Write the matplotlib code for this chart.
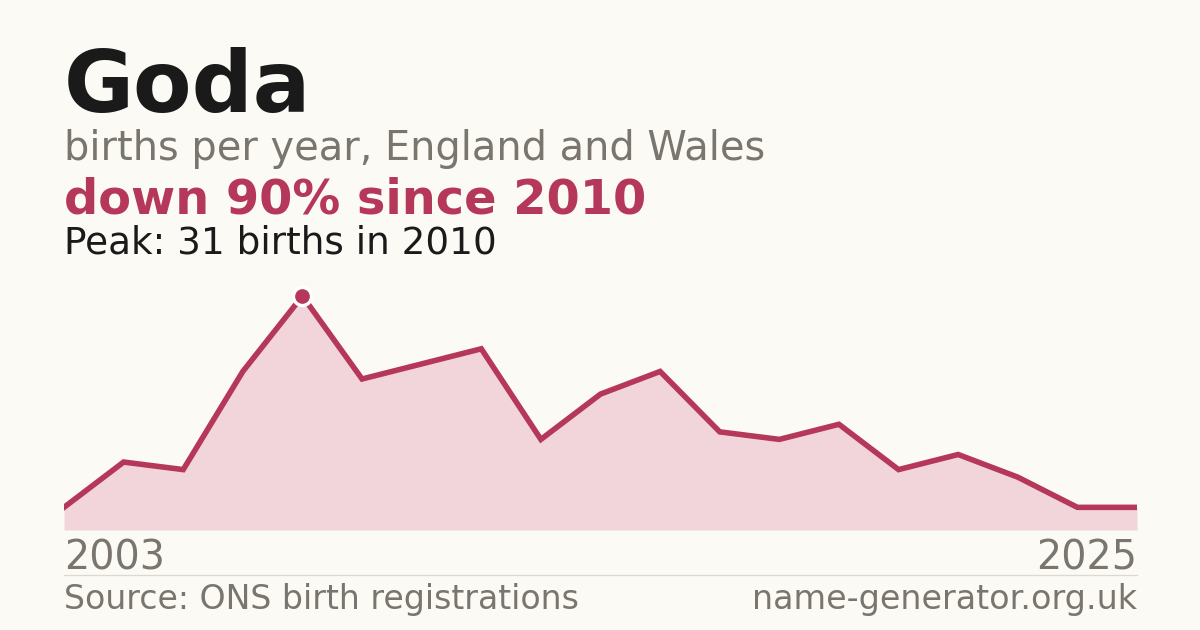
import matplotlib
matplotlib.use("Agg")
import matplotlib.pyplot as plt

# births per year (registered years only, plotted in order)
births = [3, 9, 8, 21, 31, 20, 22, 24, 12, 18, 21, 13, 12, 14, 8, 10, 7, 3, 3]
first_year = "2003"
last_year = "2025"
peak_value = 31
peak_index = 4

BG = "#fbfaf5"
RED = "#b5375a"
FILL = "#f2d5da"
GREY = "#7a756d"
DARK = "#1a1a1a"

W, H = 1200, 630
plt.rcParams['font.family'] = ['DejaVu Sans']

fig = plt.figure(figsize=(W / 100, H / 100), dpi=100, facecolor=BG)


def fx(px):
    return px / W


def fy(py):
    return 1 - py / H


# plot area
left, right, top, bottom = 64, 1137, 280, 530
ax = fig.add_axes([fx(left), fy(bottom), fx(right - left), (bottom - top) / H])
ax.set_facecolor(BG)
xs = list(range(len(births)))
ax.fill_between(xs, births, 0, color=FILL, linewidth=0, zorder=1)
ax.plot(xs, births, color=RED, linewidth=4.0, solid_joinstyle='miter', zorder=2)
ax.plot([peak_index], [peak_value], 'o', color=RED, markersize=13, 
        markeredgecolor="white", markeredgewidth=2.4, zorder=3, clip_on=False)
ax.set_xlim(0, len(births) - 1)
ax.set_ylim(0, (bottom - top) / 7.55)
ax.axis('off')

# headings
fig.text(fx(64), fy(112), "Goda", fontsize=61.5, fontweight='bold', color=DARK, va='baseline')
fig.text(fx(64), fy(160), "births per year, England and Wales", fontsize=28.7, color=GREY, va='baseline')
fig.text(fx(64), fy(214), "down 90% since 2010", fontsize=34.5, fontweight='bold', color=RED, va='baseline')
fig.text(fx(64), fy(253), "Peak: 31 births in 2010", fontsize=26.9, color=DARK, va='baseline')

# axis end labels
fig.text(fx(64), fy(570), first_year, fontsize=28.5, color=GREY, va='baseline')
fig.text(fx(1137), fy(570), last_year, fontsize=28.5, color=GREY, va='baseline', ha='right')

# separator and footer
fig.add_artist(plt.Line2D([fx(64), fx(1137)], [fy(574.5), fy(574.5)], color="#dcd9d2", linewidth=0.9))
fig.text(fx(64), fy(609), "Source: ONS birth registrations", fontsize=23.9, color=GREY, va='baseline')
fig.text(fx(1137), fy(609), "name-generator.org.uk", fontsize=24, color=GREY, va='baseline', ha='right')

fig.savefig("out.png", dpi=100, facecolor=BG)
